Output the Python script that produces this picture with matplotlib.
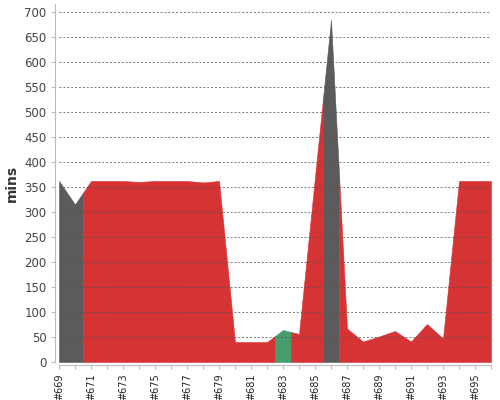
import numpy as np
import matplotlib
matplotlib.use("Agg")
import matplotlib.pyplot as plt

builds = list(range(669, 697))
durations = [362, 315, 362, 362, 362, 360, 362, 362, 362, 359, 362, 40,
             40, 40, 64, 56, 370, 684, 67, 41, 51, 62, 41, 76, 47, 362, 362, 362]
status = ['aborted', 'aborted'] + ['failed'] * 12 + ['success'] + ['failed'] * 2 + ['aborted'] + ['failed'] * 10
tick_labels = ['#%d' % b for b in builds]

colors = {'failed': '#d63335', 'aborted': '#5b5b5b', 'success': '#459c6c'}

x = np.array(builds, dtype=float)
y = np.array(durations, dtype=float)

fig = plt.figure(figsize=(5, 4), dpi=100)
ax = fig.add_axes([0.118, 0.095, 0.864, 0.894])

# group consecutive builds with the same status into one band under the line
runs = []
start = 0
for i in range(1, len(builds) + 1):
    if i == len(builds) or status[i] != status[start]:
        runs.append((start, i - 1))
        start = i

for a, b in runs:
    lo = max(builds[a] - 0.5, x[0])
    hi = min(builds[b] + 0.5, x[-1])
    xs = np.concatenate([[lo], x[a:b + 1], [hi]])
    xs = np.unique(np.clip(xs, lo, hi))
    ys = np.interp(xs, x, y)
    c = colors[status[a]]
    ax.fill_between(xs, 0, ys, facecolor=c, edgecolor=c, linewidth=0.4, zorder=1)

ax.set_xlim(builds[0], builds[-1])
ax.set_ylim(0, 715)
ax.set_yticks(range(0, 701, 50))
ax.set_xticks(builds)
ax.set_xticklabels([l if i % 2 == 0 else '' for i, l in enumerate(tick_labels)])
ax.tick_params(axis='y', labelsize=8.5, labelcolor='#444444', length=3, color='#bbbbbb', pad=3)
ax.tick_params(axis='x', labelsize=7, labelrotation=90, labelcolor='#222222',
               length=3, color='#bbbbbb', pad=3)

ax.grid(axis='y', linestyle=(0, (2, 2)), color='#555555', linewidth=0.7, alpha=0.8, zorder=2)
ax.set_axisbelow(False)

for s in ['top', 'right']:
    ax.spines[s].set_visible(False)
ax.spines['left'].set_color('#bbbbbb')
ax.spines['bottom'].set_color('#bbbbbb')
ax.spines['left'].set_position(('outward', 3))
ax.spines['bottom'].set_position(('outward', 2))

ax.set_ylabel('mins', fontsize=10, fontweight='bold', color='#333333', labelpad=4)

fig.savefig('out.png', dpi=100)
